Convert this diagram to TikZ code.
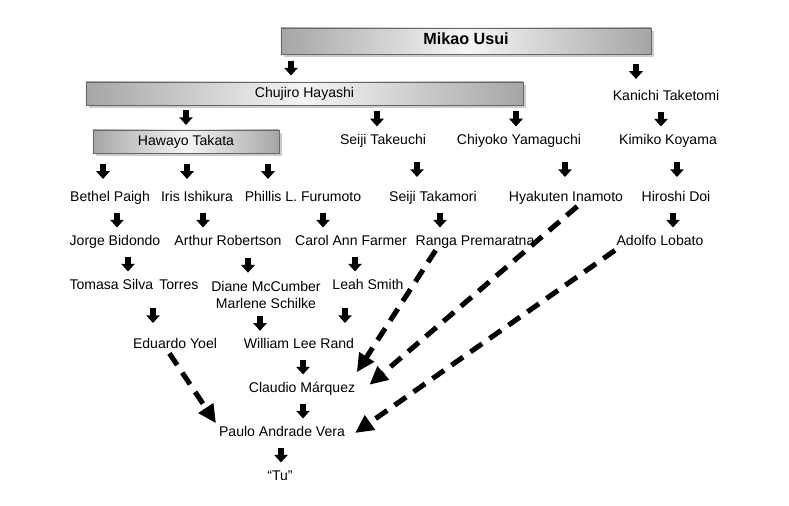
\documentclass[tikz,border=0pt]{standalone}
\usepackage{fontspec}
\setmainfont{Liberation Sans}
\usetikzlibrary{arrows.meta,calc,shadows}

\begin{document}
\begin{tikzpicture}[x=0.025cm, y=-0.025cm, font=\fontsize{10}{11.5}\selectfont,
  nm/.style={inner sep=1pt, text height=7.5pt, text depth=2pt, align=center},
  bx/.style={nm, draw=gray!80!black, left color=gray!70, right color=gray!70, middle color=gray!8,
    minimum height=0.575cm, drop shadow={shadow xshift=2pt, shadow yshift=-2pt, fill=gray!40, opacity=1}},
  blk/.style={line width=3.6pt, -{Triangle[length=5.5pt,width=9.5pt]},
    to path={($(\tikztostart)!0.5!(\tikztotarget)$) +(0,-7.5) -- +(0,7.5)}},
  dsh/.style={line width=3.6pt, dash pattern=on 10pt off 6.5pt, -{Triangle[length=13pt,width=12pt]}}]
  \useasboundingbox (0,0) rectangle (789,506);
  % boxes
  \node[bx, minimum width=9.25cm, minimum height=0.65cm, font=\fontsize{11.5}{14}\selectfont\bfseries] (usui) at (466,41) {Mikao Usui};
  \node[bx, minimum width=10.925cm] (hayashi) at (304.5,93.5) {Chujiro Hayashi};
  \node[bx, minimum width=4.65cm] (takata) at (186,141.5) {Hawayo Takata};
  % names
  \node[nm] (taketomi) at (666,97) {Kanichi Taketomi};
  \node[nm] (takeuchi) at (383,141) {Seiji Takeuchi};
  \node[nm] (yamaguchi) at (519,141) {Chiyoko Yamaguchi};
  \node[nm] (koyama) at (668,141) {Kimiko Koyama};
  \node[nm] (paigh) at (110,198) {Bethel Paigh};
  \node[nm] (ishikura) at (197,198) {Iris Ishikura};
  \node[nm] (furumoto) at (303,198) {Phillis L. Furumoto};
  \node[nm] (takamori) at (433,198) {Seiji Takamori};
  \node[nm] (inamoto) at (566,198) {Hyakuten Inamoto};
  \node[nm] (doi) at (676,198) {Hiroshi Doi};
  \node[nm] (bidondo) at (115,242) {Jorge Bidondo};
  \node[nm] (robertson) at (228,242) {Arthur Robertson};
  \node[nm] (farmer) at (351,242) {Carol Ann Farmer};
  \node[nm] (premaratna) at (475,242) {Ranga Premaratna};
  \node[nm] (lobato) at (660,242) {Adolfo Lobato};
  \node[nm] (torres) at (134,286) {Tomasa Silva\, Torres};
  \node[nm, text height=, text depth=] (mccumber) at (266,295) {Diane McCumber\\Marlene Schilke};
  \node[nm] (smith) at (368,286) {Leah Smith};
  \node[nm] (yoel) at (175,345) {Eduardo Yoel};
  \node[nm] (rand) at (299,345) {William Lee Rand};
  \node[nm] (marquez) at (302,389) {Claudio Márquez};
  \node[nm] (vera) at (282,433) {Paulo Andrade Vera};
  \node[nm] (tu) at (280,477) {“Tu”};
  % short arrows
  \foreach \a/\b/\x in {usui/hayashi/291, usui/taketomi/636, hayashi/takata/186, hayashi/takeuchi/377,
      hayashi/yamaguchi/516, taketomi/koyama/661, takata/paigh/103, takata/ishikura/187, takata/furumoto/268,
      takeuchi/takamori/417, yamaguchi/inamoto/565, koyama/doi/677, paigh/bidondo/117, ishikura/robertson/203,
      furumoto/farmer/323, takamori/premaratna/440, doi/lobato/673, bidondo/torres/128, robertson/mccumber/248,
      farmer/smith/355, torres/yoel/153, mccumber/rand/260, smith/rand/345, rand/marquez/303,
      marquez/vera/303, vera/tu/281}
    \draw[blk] (\a.south -| \x,0) to (\b.north -| \x,0);
  % dashed arrows
  \draw[dsh] ([xshift=-4pt]yoel.south) -- ([shift={(-1pt,1pt)}]vera.north west);
  \draw[dsh] ([xshift=-28pt]premaratna.south) -- ([yshift=6pt]marquez.north east);
  \draw[dsh] ([xshift=8pt]inamoto.south) -- ([shift={(9pt,3pt)}]marquez.east);
  \draw[dsh] (lobato.south west) -- ([xshift=6pt]vera.east);
\end{tikzpicture}
\end{document}
